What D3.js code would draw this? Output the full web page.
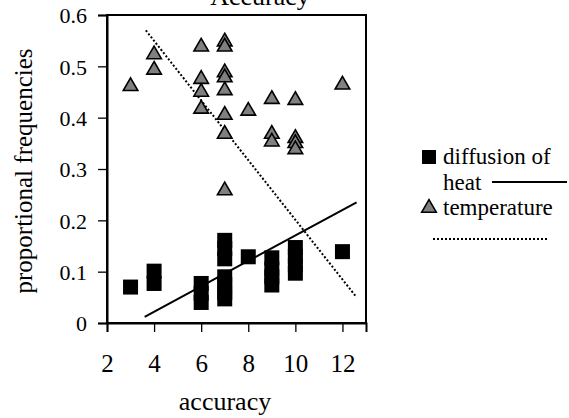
<!DOCTYPE html>
<html>
<head>
<meta charset="utf-8">
<script src="https://cdn.jsdelivr.net/npm/d3@7"></script>
<style>
  body { margin: 0; background: #fff; }
  text { font-family: "Liberation Serif", "Times New Roman", serif; fill: #000; }
</style>
</head>
<body>
<div id="chart"></div>
<script>
// diffusion of heat (squares)
var heatX = [3, 4, 4, 6, 6, 6, 7, 7, 7, 7, 7, 7, 7, 8, 9, 9, 9, 9, 10, 10, 10, 10, 12];
var heatY = [0.07, 0.101, 0.077, 0.077, 0.058, 0.04, 0.161, 0.145, 0.125, 0.09, 0.075, 0.06, 0.047, 0.129, 0.127, 0.105, 0.09, 0.074, 0.147, 0.13, 0.113, 0.097, 0.139];
// temperature (triangles)
var tempX = [3, 4, 4, 6, 6, 6, 6, 7, 7, 7, 7, 7, 7, 7, 7, 8, 9, 9, 9, 10, 10, 10, 10, 12];
var tempY = [0.463, 0.525, 0.495, 0.54, 0.477, 0.452, 0.419, 0.55, 0.54, 0.49, 0.48, 0.455, 0.407, 0.37, 0.26, 0.415, 0.438, 0.37, 0.355, 0.436, 0.362, 0.352, 0.34, 0.466];
// trend line end points
var heatTrendX = [3.6, 12.6];
var heatTrendY = [0.012, 0.235];
var tempTrendX = [3.65, 12.6];
var tempTrendY = [0.57, 0.05];

var xTicks = [2, 4, 6, 8, 10, 12];
var yTicks = [0, 0.1, 0.2, 0.3, 0.4, 0.5, 0.6];

var w = 569, h = 418;
var svg = d3.select("#chart").append("svg").attr("width", w).attr("height", h);

var x = d3.scaleLinear().domain([2, 13]).range([107, 366]);
var y = d3.scaleLinear().domain([0, 0.6]).range([323, 15]);

// title, cut off at the top like in the original
svg.append("text").attr("x", 260).attr("y", 5).attr("text-anchor", "middle")
  .style("font-size", "26px").text("Accuracy");

// plot frame
svg.append("rect")
  .attr("x", x(2)).attr("y", y(0.6))
  .attr("width", x(13) - x(2)).attr("height", y(0) - y(0.6))
  .attr("fill", "none").attr("stroke", "#000").attr("stroke-width", 2);

var yAxis = svg.append("g").attr("transform", "translate(" + x(2) + ",0)")
  .call(d3.axisLeft(y).tickValues(yTicks).tickSize(9).tickPadding(11)
    .tickFormat(function(d) { return d === 0 ? "0" : d.toFixed(1); }));
yAxis.select(".domain").attr("stroke-width", 2);
yAxis.selectAll("line").attr("stroke-width", 1.3);
yAxis.selectAll("text").style("font-size", "22px").style("font-family", "Liberation Serif").attr("dy", "0.36em");

var xAxis = svg.append("g").attr("transform", "translate(0," + y(0) + ")")
  .call(d3.axisBottom(x).tickValues(xTicks).tickSize(9).tickPadding(22));
xAxis.select(".domain").attr("stroke-width", 2);
xAxis.selectAll("line").attr("stroke-width", 1.3);
xAxis.selectAll("text").style("font-size", "25px").style("font-family", "Liberation Serif")
  .attr("y", 49).attr("dy", "0");

// axis titles
svg.append("text").attr("transform", "translate(32,171) rotate(-90)")
  .attr("text-anchor", "middle").style("font-size", "25px").text("proportional frequencies");
svg.append("text").attr("x", 225).attr("y", 410).attr("text-anchor", "middle")
  .style("font-size", "26px").text("accuracy");

// trend lines
var line = d3.line().x(function(d) { return x(d[0]); }).y(function(d) { return y(d[1]); });
svg.append("path").attr("d", line(d3.zip(heatTrendX, heatTrendY)))
  .attr("fill", "none").attr("stroke", "#000").attr("stroke-width", 2);
svg.append("path").attr("d", line(d3.zip(tempTrendX, tempTrendY)))
  .attr("fill", "none").attr("stroke", "#000").attr("stroke-width", 2).attr("stroke-dasharray", "2,2");

// markers
var sq = 15;
svg.append("g").selectAll("rect").data(d3.zip(heatX, heatY)).enter().append("rect")
  .attr("x", function(d) { return x(d[0]) - sq / 2; })
  .attr("y", function(d) { return y(d[1]) - sq / 2; })
  .attr("width", sq).attr("height", sq).attr("fill", "#000");

var tri = d3.symbol().type(d3.symbolTriangle).size(92);
svg.append("g").selectAll("path").data(d3.zip(tempX, tempY)).enter().append("path")
  .attr("d", tri)
  .attr("transform", function(d) { return "translate(" + x(d[0]) + "," + (y(d[1]) + 1) + ")"; })
  .attr("fill", "#808080").attr("stroke", "#000").attr("stroke-width", 1.6);

// legend
var lg = svg.append("g").style("font-size", "23px");
lg.append("rect").attr("x", 422).attr("y", 150).attr("width", 14).attr("height", 14).attr("fill", "#000");
lg.append("text").attr("x", 443).attr("y", 164).text("diffusion of");
lg.append("text").attr("x", 443).attr("y", 190).text("heat");
lg.append("line").attr("x1", 492).attr("x2", 567).attr("y1", 182).attr("y2", 182)
  .attr("stroke", "#000").attr("stroke-width", 2);
lg.append("path").attr("d", tri).attr("transform", "translate(429,208)")
  .attr("fill", "#808080").attr("stroke", "#000").attr("stroke-width", 1.6);
lg.append("text").attr("x", 443).attr("y", 215).text("temperature");
lg.append("line").attr("x1", 433).attr("x2", 548).attr("y1", 239).attr("y2", 239)
  .attr("stroke", "#000").attr("stroke-width", 2).attr("stroke-dasharray", "2,2");
</script>
</body>
</html>
